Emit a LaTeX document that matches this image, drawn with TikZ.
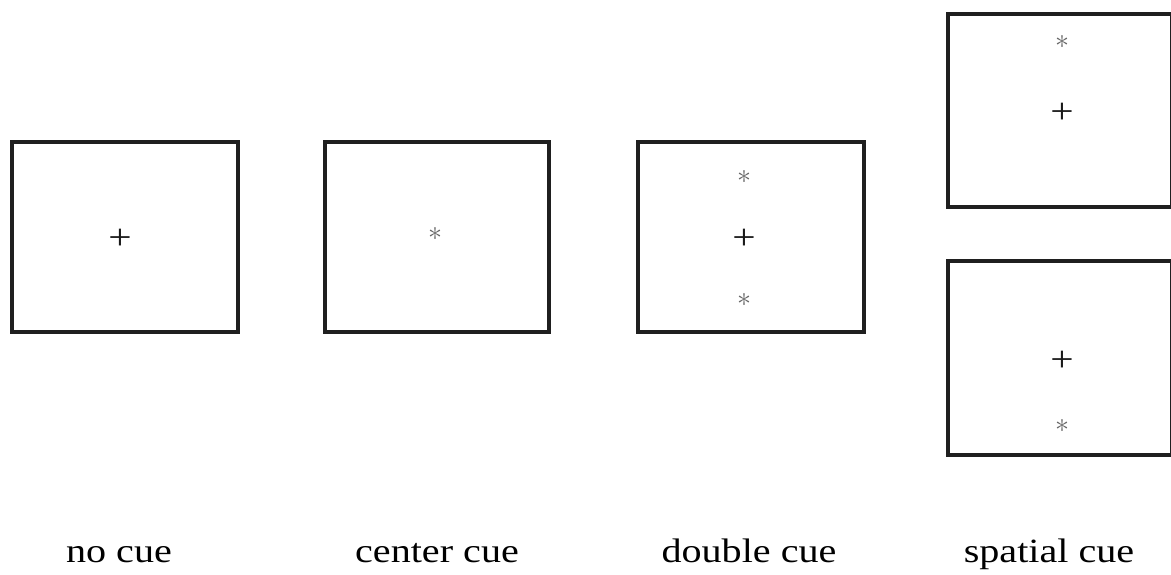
\documentclass[tikz,border=0pt]{standalone}
\usepackage{fontspec}
\setmainfont{Liberation Serif}
\begin{document}
\begin{tikzpicture}[x=1pt,y=-1pt,
  frame/.style={draw=black!88, line width=3.8pt, line join=miter},
  plussign/.style={inner sep=0pt, font=\fontsize{36}{36}\selectfont, text=black!90},
  cuestar/.style={inner sep=0pt, text=black!60},
  caption/.style={anchor=base, inner sep=0pt, font=\fontsize{34}{34}\selectfont}]
\useasboundingbox (0,0) rectangle (1171,574);
% frames
\draw[frame] (12,142) rectangle (238,332);
\draw[frame] (325,142) rectangle (549,332);
\draw[frame] (638,142) rectangle (864,332);
\draw[frame] (948,14) rectangle (1172,207);
\draw[frame] (948,261) rectangle (1172,455);
% no cue
\node[plussign] (p1) at (120,239) {\scalebox{1.15}[1]{+}};
% center cue
\node[cuestar] (s2) at (435,234) {\scalebox{2.8}{$\ast$}};
% double cue
\node[cuestar] (s3a) at (744,177) {\scalebox{2.8}{$\ast$}};
\node[plussign] (p3) at (744,239) {\scalebox{1.15}[1]{+}};
\node[cuestar] (s3b) at (744,300) {\scalebox{2.8}{$\ast$}};
% spatial cue
\node[cuestar] (s4) at (1062,42) {\scalebox{2.8}{$\ast$}};
\node[plussign] (p4) at (1062,113) {\scalebox{1.15}[1]{+}};
\node[plussign] (p5) at (1062,361) {\scalebox{1.15}[1]{+}};
\node[cuestar] (s5) at (1062,426) {\scalebox{2.8}{$\ast$}};
% captions
\node[caption] (l1) at (119,562) {\scalebox{1.18}[1]{no cue}};
\node[caption] (l2) at (437,562) {\scalebox{1.18}[1]{center cue}};
\node[caption] (l3) at (749,562) {\scalebox{1.18}[1]{double cue}};
\node[caption] (l4) at (1049,562) {\scalebox{1.18}[1]{spatial cue}};
\end{tikzpicture}
\end{document}
